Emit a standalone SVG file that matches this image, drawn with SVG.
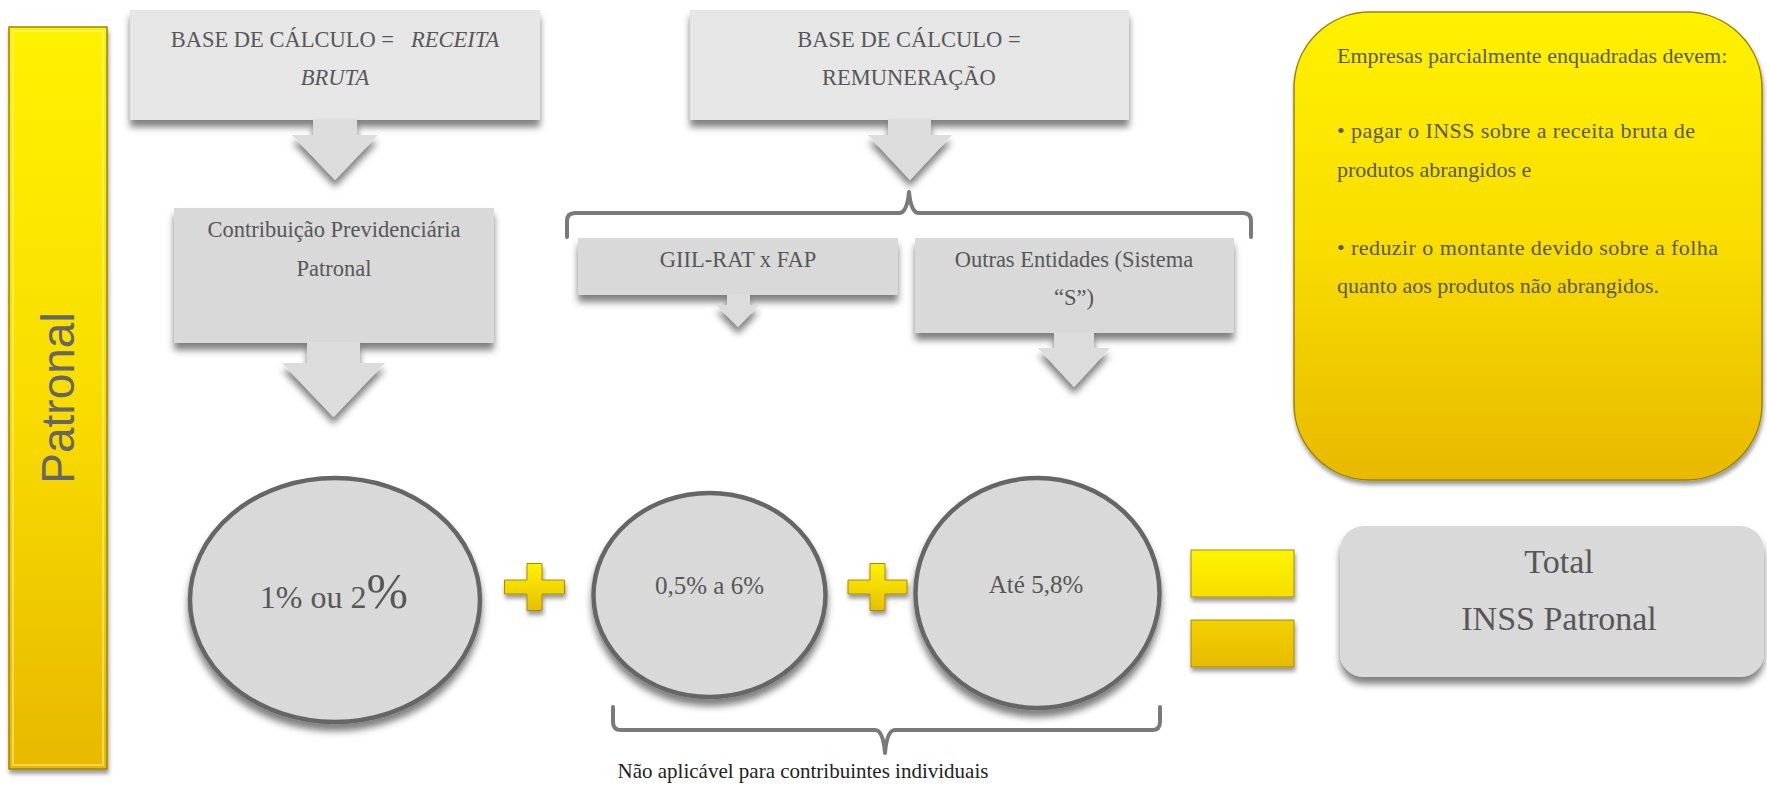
<svg xmlns="http://www.w3.org/2000/svg" width="1767" height="785" viewBox="0 0 1767 785">
<defs>
<linearGradient id="gY" x1="0" y1="0" x2="0" y2="1">
<stop offset="0" stop-color="#FFF200"/>
<stop offset="0.5" stop-color="#F9DD00"/>
<stop offset="1" stop-color="#E8B900"/>
</linearGradient>
<linearGradient id="gEq" gradientUnits="userSpaceOnUse" x1="0" y1="550" x2="0" y2="667">
<stop offset="0" stop-color="#FFF500"/>
<stop offset="1" stop-color="#E8BA00"/>
</linearGradient>
<linearGradient id="gPlus" x1="0" y1="0" x2="0" y2="1">
<stop offset="0" stop-color="#FFF300"/>
<stop offset="1" stop-color="#E6BF00"/>
</linearGradient>
<filter id="sh" x="-20%" y="-20%" width="140%" height="160%">
<feDropShadow dx="0" dy="7" stdDeviation="3.5" flood-color="#000" flood-opacity="0.5"/>
</filter>
<filter id="shs" x="-20%" y="-20%" width="140%" height="160%">
<feDropShadow dx="1" dy="4" stdDeviation="2" flood-color="#000" flood-opacity="0.4"/>
</filter>
<style>
.boxA{fill:#E6E6E6;filter:url(#sh)}
.boxB{fill:#D9D9D9;filter:url(#sh)}
.arrow{fill:#DCDCDC;filter:url(#sh)}
.t{font-family:"Liberation Serif",serif;fill:#575757;font-size:22.5px;text-anchor:middle}
.c1{font-size:32px}
.c1b{font-size:50px}
.c2{font-size:25px}
.tt{font-size:34px}
.circ{fill:#D9D9D9;stroke:#666;stroke-width:4.5;filter:url(#sh)}
.brace{fill:none;stroke:#7A7A7A;stroke-width:4;stroke-linejoin:round;stroke-linecap:round}
.yel{fill:url(#gY);stroke:#9C8500;stroke-width:1.5;filter:url(#shs)}
.op{stroke:#A88C00;stroke-width:1;filter:url(#shs)}
.nt{font-family:"Liberation Serif",serif;font-size:22px;fill:#595959}
</style>
</defs>
<rect width="1767" height="785" fill="#FFFFFF"/>

<g id="node-patronal">
<rect class="yel" x="9" y="27" width="98" height="742"/>
<rect x="13" y="31" width="90" height="734" fill="none" stroke="#FFF7A0" stroke-opacity="0.5" stroke-width="2"/>
<text x="0" y="0" transform="translate(74,398) rotate(-90)" font-family="'Liberation Sans',Arial,sans-serif" font-size="46" fill="#666666" text-anchor="middle">Patronal</text>
</g>

<g id="node-base-receita">
<rect class="boxA" x="130" y="10" width="410" height="110"/>
<text class="t" x="335" y="47" xml:space="preserve">BASE DE CÁLCULO =   <tspan font-style="italic">RECEITA</tspan></text>
<text class="t" x="335" y="85" font-style="italic">BRUTA</text>
</g>

<g id="node-contribuicao">
<rect class="boxB" x="174" y="208" width="320" height="135"/>
<text class="t" x="334" y="237">Contribuição Previdenciária</text>
<text class="t" x="334" y="276">Patronal</text>
</g>

<g id="node-base-remuneracao">
<rect class="boxA" x="690" y="10" width="439" height="110"/>
<text class="t" x="909" y="47">BASE DE CÁLCULO =</text>
<text class="t" x="909" y="85">REMUNERAÇÃO</text>
</g>

<g id="node-giil">
<rect class="boxB" x="578" y="238" width="320" height="57"/>
<text class="t" x="738" y="267">GIIL-RAT x FAP</text>
</g>

<g id="node-outras">
<rect class="boxB" x="915" y="238" width="319" height="95"/>
<text class="t" x="1074" y="267">Outras Entidades (Sistema</text>
<text class="t" x="1074" y="305">“S”)</text>
</g>

<g id="node-nota">
<rect class="yel" x="1294" y="12" width="468" height="468" rx="76" ry="76"/>
<text class="nt" x="1337" y="63">Empresas parcialmente enquadradas devem:</text>
<text class="nt" x="1337" y="138" textLength="358" lengthAdjust="spacing">• pagar o INSS sobre a receita bruta de</text>
<text class="nt" x="1337" y="177">produtos abrangidos e</text>
<text class="nt" x="1337" y="255" textLength="381" lengthAdjust="spacing">• reduzir o montante devido sobre a folha</text>
<text class="nt" x="1337" y="293">quanto aos produtos não abrangidos.</text>
</g>

<g id="node-c1">
<ellipse class="circ" cx="335" cy="600" rx="145" ry="122"/>
<text class="t c1" x="334" y="608" xml:space="preserve">1% ou 2<tspan class="c1b">%</tspan></text>
</g>

<g id="node-c2">
<ellipse class="circ" cx="709.5" cy="595" rx="116" ry="102"/>
<text class="t c2" x="709.5" y="594">0,5% a 6%</text>
</g>

<g id="node-c3">
<ellipse class="circ" cx="1037.5" cy="593" rx="122" ry="115"/>
<text class="t c2" x="1036" y="593">Até 5,8%</text>
</g>

<g id="node-total">
<rect class="boxB" x="1340" y="526" width="424" height="151" rx="24" ry="24"/>
<text class="t tt" x="1559" y="573">Total</text>
<text class="t tt" x="1559" y="630">INSS Patronal</text>
</g>

<g id="operators">
<path class="op" fill="url(#gPlus)" transform="translate(534.5,587)" d="M-7.5,-23.5 h15 v16.5 h22.5 v14 h-22.5 v16.5 h-15 v-16.5 h-22.5 v-14 h22.5 z"/>
<path class="op" fill="url(#gPlus)" transform="translate(877.5,587)" d="M-7.5,-23.5 h15 v16.5 h22 v14 h-22 v16.5 h-15 v-16.5 h-22 v-14 h22 z"/>
<rect class="op" fill="url(#gEq)" x="1191" y="550" width="103" height="47"/>
<rect class="op" fill="url(#gEq)" x="1191" y="620" width="103" height="47"/>
</g>

<g id="connectors">
<path class="arrow" d="M313,119 H357 V135 H378 L335,180 L292,135 H313 Z"/>
<path class="arrow" d="M307,342 H360 V363 H385 L333.5,417 L282,363 H307 Z"/>
<path class="arrow" d="M888,119 H931 V135 H952 L910,180 L868,135 H888 Z"/>
<path class="arrow" d="M727,294 H750 V305 H759 L738,327 L716,305 H727 Z"/>
<path class="arrow" d="M1054,332 H1094 V348 H1110 L1074,387 L1038,348 H1054 Z"/>
<path class="brace" d="M567,237 V221 Q567,213 575,213 H899 Q907,213 909,192 Q911,213 919,213 H1243 Q1251,213 1251,221 V237"/>
<path class="brace" d="M613,707 V722 Q613,730 621,730 H875 Q883,730 885,753 Q887,730 895,730 H1152 Q1160,730 1160,722 V707"/>
<text x="803" y="778" font-family="'Liberation Serif',serif" font-size="21" fill="#222222" text-anchor="middle">Não aplicável para contribuintes individuais</text>
</g>
</svg>
